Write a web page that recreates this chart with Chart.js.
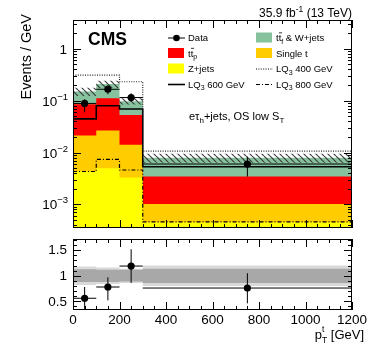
<!DOCTYPE html>
<html><head><meta charset="utf-8">
<script src="https://cdn.jsdelivr.net/npm/chart.js@4/dist/chart.umd.min.js"></script>
<style>
html,body{margin:0;padding:0;background:#fff;}
#wrap{position:relative;width:374px;height:351px;overflow:hidden;}
#c1{position:absolute;left:0;top:0;}
#c2{position:absolute;left:0;top:232px;}
</style></head><body>
<div id="wrap"><canvas id="c1" width="374" height="232"></canvas><canvas id="c2" width="374" height="119"></canvas></div>
<script>
// ---------------- data ----------------
const binEdges = [0, 100, 200, 300, 1200];
const binCenters = [50, 150, 250, 750];
const zJets   = [0.0043, 0.0050, 0.0033, 0.00045];
const singleT = [0.0171, 0.0216, 0.0109, 0.00057];
const ttP     = [0.0644, 0.0854, 0.0388, 0.00242];
const ttFW    = [0.064, 0.098, 0.045, 0.00446];
const lq400 = [0.31, 0.31, 0.232, 0.0106];
const lq600 = [0.0445, 0.0796, 0.0689, 0.00533];
const lq800 = [0.0043, 0.00735, 0.0046, 0.00046];
const dataVal = [0.0885, 0.166, 0.115, 0.0060];
const dataLo  = [0.0596, 0.133, 0.095, 0.00344];
const dataHi  = [0.106, 0.200, 0.139, 0.0083];
const ratioVal = [0.56, 0.78, 1.19, 0.76];
const ratioLo  = [0.30, 0.52, 0.86, 0.46];
const ratioHi  = [0.78, 0.97, 1.52, 1.05];
const ratioStatLo = [0.88, 0.88, 0.89, 0.86];
const ratioStatHi = [1.13, 1.12, 1.12, 1.14];
const ratioTotLo  = [0.82, 0.84, 0.86, 0.80];
const ratioTotHi  = [1.18, 1.16, 1.14, 1.20];
const xTickValues = [0, 200, 400, 600, 800, 1000, 1200];
const xTickLabels = ['0', '200', '400', '600', '800', '1000', '1200'];
const mainYTickValues = [1, 0.1, 0.01, 0.001];
const mainYTickExps = ['', '\u22121', '\u22122', '\u22123'];
const ratioYTickValues = [0.5, 1, 1.5];
const ratioYTickLabels = ['0.5', '1', '1.5'];

// ---------------- helpers ----------------
const FF = '"Liberation Sans", Arial, Helvetica, sans-serif';
const steps = v => binEdges.map((e, i) => ({x: e, y: v[Math.min(i, v.length - 1)]}));
const add = (a, b) => a.map((v, i) => v + b[i]);
const cum1 = zJets.slice();
const cum2 = add(cum1, singleT);
const cum3 = add(cum2, ttP);
const cum4 = add(cum3, ttFW);
const hatchLo = cum4.map((v, i) => v * ratioTotLo[i]);
const hatchHi = cum4.map((v, i) => v * ratioTotHi[i]);

function makeHatch() {
  const c = document.createElement('canvas'); c.width = 6; c.height = 6;
  const g = c.getContext('2d');
  g.strokeStyle = '#3c3c3c'; g.lineWidth = 1.2;
  for (const k of [-6, 0, 6]) { g.beginPath(); g.moveTo(k, 0); g.lineTo(k + 6, 6); g.stroke(); }
  return g.createPattern(c, 'repeat');
}
const hatch = makeHatch();

function errorSets(centers, vals, lo, hi) {
  const out = [];
  centers.forEach((c, i) => {
    out.push({data: [{x: c, y: lo[i]}, {x: c, y: hi[i]}], borderColor: '#000', borderWidth: 1, pointRadius: 0, fill: false});
    out.push({data: [{x: binEdges[i], y: vals[i]}, {x: binEdges[i + 1], y: vals[i]}], borderColor: '#000', borderWidth: 1, pointRadius: 0, fill: false});
  });
  return out;
}

function rich(ctx, x, y, parts, align) {
  let total = 0;
  const ws = parts.map(p => { ctx.font = (p.b ? 'bold ' : '') + p.s + 'px ' + FF; const w = p.w0 ? 0 : ctx.measureText(p.t).width; total += w; return w; });
  let cx = align === 'right' ? x - total : x;
  parts.forEach((p, i) => {
    ctx.font = (p.b ? 'bold ' : '') + p.s + 'px ' + FF;
    ctx.fillText(p.t, cx, y + (p.dy || 0));
    if (p.bar) {
      const w = ctx.measureText(p.t).width;
      ctx.save(); ctx.lineWidth = 0.8; ctx.beginPath();
      ctx.moveTo(cx + 0.3, y - p.s * 0.86); ctx.lineTo(cx + w + 0.8, y - p.s * 0.86); ctx.stroke(); ctx.restore();
    }
    cx += ws[i];
  });
}

function frameTicks(chart, yTicks) {
  const {ctx, chartArea: a, scales: {x}} = chart;
  ctx.save();
  ctx.strokeStyle = '#000'; ctx.lineWidth = 1;
  ctx.strokeRect(a.left + 0.5, a.top + 0.5, a.right - a.left - 1, a.bottom - a.top - 1);
  for (let v = 0; v <= 1200; v += 50) {
    const px = Math.round(x.getPixelForValue(v)) + 0.5;
    const len = v % 200 === 0 ? 8 : 4;
    ctx.beginPath();
    ctx.moveTo(px, a.bottom); ctx.lineTo(px, a.bottom - len);
    ctx.moveTo(px, a.top); ctx.lineTo(px, a.top + len);
    ctx.stroke();
  }
  yTicks.forEach(([py, len]) => {
    const p = Math.round(py) + 0.5;
    ctx.beginPath();
    ctx.moveTo(a.left, p); ctx.lineTo(a.left + len, p);
    ctx.moveTo(a.right, p); ctx.lineTo(a.right - len, p);
    ctx.stroke();
  });
  ctx.restore();
}

const baseOpts = {
  responsive: false, animation: false, devicePixelRatio: 1, events: [],
  plugins: {legend: {display: false}, tooltip: {enabled: false}},
};

// ---------------- main chart ----------------
const mainSets = [];
errorSets(binCenters, dataVal, dataLo, dataHi).forEach(d => mainSets.push(d));
mainSets.push({data: binCenters.map((c, i) => ({x: c, y: dataVal[i]})), showLine: false, pointRadius: 3.6, pointBackgroundColor: '#000', pointBorderWidth: 0, fill: false});
mainSets.push({data: steps(lq400), stepped: true, borderColor: '#222', borderWidth: 1.2, borderDash: [1, 1.4], pointRadius: 0, fill: false});
mainSets.push({data: steps(lq600), stepped: true, borderColor: '#000', borderWidth: 1.6, pointRadius: 0, fill: false});
mainSets.push({data: steps(lq800), stepped: true, borderColor: '#000', borderWidth: 1.2, borderDash: [4, 2, 1, 2], pointRadius: 0, fill: false});
const hiIdx = mainSets.length;
mainSets.push({data: steps(hatchHi), stepped: true, borderWidth: 0, pointRadius: 0, backgroundColor: hatch, fill: {target: hiIdx + 1}});
mainSets.push({data: steps(hatchLo), stepped: true, borderWidth: 0, pointRadius: 0, fill: false});
mainSets.push({data: steps(cum1), stepped: true, borderWidth: 0, pointRadius: 0, backgroundColor: '#ffff00', fill: 'start'});
mainSets.push({data: steps(cum2), stepped: true, borderWidth: 0, pointRadius: 0, backgroundColor: '#ffcc00', fill: 'start'});
mainSets.push({data: steps(cum3), stepped: true, borderWidth: 0, pointRadius: 0, backgroundColor: '#ff0000', fill: 'start'});
mainSets.push({data: steps(cum4), stepped: true, borderWidth: 0, pointRadius: 0, backgroundColor: '#86c29e', fill: 'start'});

const mainPlugin = {
  id: 'mainDeco',
  afterDraw(chart) {
    const {ctx, chartArea: a, scales: {y}} = chart;
    const yt = [];
    for (let e = -4; e <= 0; e++) for (let m = 1; m <= 9; m++) {
      const v = m * Math.pow(10, e);
      if (v >= y.min && v <= y.max) yt.push([y.getPixelForValue(v), m === 1 ? 8 : 4]);
    }
    frameTicks(chart, yt);
    ctx.save();
    ctx.fillStyle = '#000'; ctx.strokeStyle = '#000'; ctx.textBaseline = 'alphabetic';
    // y tick labels
    mainYTickValues.forEach((v, i) => {
      const py = y.getPixelForValue(v) + 5;
      if (mainYTickExps[i] === '') rich(ctx, 67, py, [{t: '1', s: 13.5}], 'right');
      else rich(ctx, 68, py, [{t: '10', s: 13.5}, {t: mainYTickExps[i], s: 9.5, dy: -6}], 'right');
    });
    // y title
    ctx.save(); ctx.translate(31, 14); ctx.rotate(-Math.PI / 2);
    ctx.font = '14.5px ' + FF; ctx.textAlign = 'right'; ctx.fillText('Events / GeV', 0, 0); ctx.restore();
    // header
    rich(ctx, 352, 16.5, [{t: '35.9 fb', s: 12}, {t: '-1', s: 8.5, dy: -5}, {t: ' (13 TeV)', s: 12}], 'right');
    // CMS
    rich(ctx, 88, 45, [{t: 'CMS', s: 17.5, b: true}], 'left');
    // channel label
    rich(ctx, 189, 120, [{t: 'e\u03c4', s: 11}, {t: 'h', s: 8, dy: 3}, {t: '+jets, OS low S', s: 11}, {t: 'T', s: 8, dy: 3}], 'left');
    // legend
    const rows = [37.5, 53, 68.5, 84];
    const c1 = 168, c2 = 256, t1 = 188, t2 = 276, fs = 9.5, sub = 7;
    const box = (x, yy, col) => { ctx.fillStyle = col; ctx.fillRect(x, yy - 5, 16, 10); ctx.fillStyle = '#000'; };
    const ln = (x, yy, w, dash) => { ctx.save(); ctx.lineWidth = w; ctx.setLineDash(dash); ctx.beginPath(); ctx.moveTo(x, yy + 0.5); ctx.lineTo(x + 17, yy + 0.5); ctx.stroke(); ctx.restore(); };
    ln(c1, rows[0], 1, []); ctx.beginPath(); ctx.arc(c1 + 8.5, rows[0] + 0.5, 3.3, 0, Math.PI * 2); ctx.fill();
    rich(ctx, t1, rows[0] + 3.5, [{t: 'Data', s: fs}], 'left');
    box(c1, rows[1], '#ff0000');
    rich(ctx, t1, rows[1] + 3.5, [{t: 't', s: fs}, {t: 't', s: fs, bar: true}, {t: 'p', s: sub, dy: 2.5}], 'left');
    box(c1, rows[2], '#ffff00');
    rich(ctx, t1, rows[2] + 3.5, [{t: 'Z+jets', s: fs}], 'left');
    ln(c1, rows[3], 1.6, []);
    rich(ctx, t1, rows[3] + 3.5, [{t: 'LQ', s: fs}, {t: '3', s: sub, dy: 2.5}, {t: ' 600 GeV', s: fs}], 'left');
    box(c2, rows[0], '#86c29e');
    rich(ctx, t2, rows[0] + 3.5, [{t: 't', s: fs}, {t: 't', s: fs, bar: true}, {t: 'f', s: sub, dy: 2.5}, {t: ' & W+jets', s: fs}], 'left');
    box(c2, rows[1], '#ffcc00');
    rich(ctx, t2, rows[1] + 3.5, [{t: 'Single t', s: fs}], 'left');
    ln(c2, rows[2], 1.1, [1, 1.4]);
    rich(ctx, t2, rows[2] + 3.5, [{t: 'LQ', s: fs}, {t: '3', s: sub, dy: 2.5}, {t: ' 400 GeV', s: fs}], 'left');
    ln(c2, rows[3], 1.1, [4, 2, 1, 2]);
    rich(ctx, t2, rows[3] + 3.5, [{t: 'LQ', s: fs}, {t: '3', s: sub, dy: 2.5}, {t: ' 800 GeV', s: fs}], 'left');
    ctx.restore();
  }
};

new Chart(document.getElementById('c1'), {
  type: 'line',
  data: {datasets: mainSets},
  options: Object.assign({}, baseOpts, {
    layout: {padding: {left: 73, right: 22, top: 20, bottom: 2}},
    scales: {
      x: {type: 'linear', min: 0, max: 1200, display: false},
      y: {type: 'logarithmic', min: 3.5e-4, max: 3.6, display: false}
    }
  }),
  plugins: [mainPlugin]
});

// ---------------- ratio chart ----------------
const rSets = [];
errorSets(binCenters, ratioVal, ratioLo, ratioHi).forEach(d => rSets.push(d));
rSets.push({data: binCenters.map((c, i) => ({x: c, y: ratioVal[i]})), showLine: false, pointRadius: 3.6, pointBackgroundColor: '#000', pointBorderWidth: 0, fill: false});
const dIdx = rSets.length;
rSets.push({data: steps(ratioStatHi), stepped: true, borderWidth: 0, pointRadius: 0, backgroundColor: '#a8a8a8', fill: {target: dIdx + 1}});
rSets.push({data: steps(ratioStatLo), stepped: true, borderWidth: 0, pointRadius: 0, fill: false});
const lIdx = rSets.length;
rSets.push({data: steps(ratioTotHi), stepped: true, borderWidth: 0, pointRadius: 0, backgroundColor: '#d9d9d9', fill: {target: lIdx + 1}});
rSets.push({data: steps(ratioTotLo), stepped: true, borderWidth: 0, pointRadius: 0, fill: false});

const ratioPlugin = {
  id: 'ratioDeco',
  afterDraw(chart) {
    const {ctx, chartArea: a, scales: {x, y}} = chart;
    const yt = [];
    for (let k = 3; k <= 17; k++) {
      const v = k / 10;
      if (v >= y.min && v <= y.max) yt.push([y.getPixelForValue(v), k % 5 === 0 ? 8 : 4]);
    }
    frameTicks(chart, yt);
    ctx.save();
    ctx.fillStyle = '#000'; ctx.strokeStyle = '#000';
    ctx.font = '13.5px ' + FF;
    ctx.textAlign = 'right'; ctx.textBaseline = 'middle';
    ratioYTickValues.forEach((v, i) => ctx.fillText(ratioYTickLabels[i], 67, y.getPixelForValue(v) + 0.5));
    ctx.textAlign = 'center'; ctx.textBaseline = 'alphabetic';
    xTickValues.forEach((v, i) => ctx.fillText(xTickLabels[i], x.getPixelForValue(v), a.bottom + 14));
    // x title
    ctx.textAlign = 'left';
    ctx.font = '13px ' + FF;
    const w1 = ctx.measureText(' [GeV]').width;
    ctx.fillText(' [GeV]', 364 - w1, a.bottom + 29);
    ctx.font = '8.5px ' + FF;
    const w2 = Math.max(ctx.measureText('t').width, ctx.measureText('T').width);
    const sx = 364 - w1 - w2;
    ctx.fillText('t', sx, a.bottom + 22);
    ctx.fillText('T', sx, a.bottom + 33);
    ctx.font = '13px ' + FF;
    const w3 = ctx.measureText('p').width;
    ctx.fillText('p', sx - w3, a.bottom + 29);
    // y title (fraction)
    ctx.save(); ctx.translate(0, 274.5); ctx.rotate(-Math.PI / 2);
    ctx.font = '12.5px ' + FF; ctx.textAlign = 'center';
    ctx.fillText('Data', 0, 25.5);
    ctx.fillText('Prediction', 0, 38);
    const pw = ctx.measureText('Prediction').width;
    ctx.lineWidth = 1; ctx.beginPath(); ctx.moveTo(-pw / 2, 27.5); ctx.lineTo(pw / 2, 27.5); ctx.stroke();
    ctx.restore();
    ctx.restore();
  }
};

new Chart(document.getElementById('c2'), {
  type: 'line',
  data: {datasets: rSets},
  options: Object.assign({}, baseOpts, {
    layout: {padding: {left: 73, right: 22, top: 7, bottom: 41}},
    scales: {
      x: {type: 'linear', min: 0, max: 1200, display: false},
      y: {type: 'linear', min: 0.33, max: 1.72, display: false}
    }
  }),
  plugins: [ratioPlugin]
});
</script>
</body></html>
